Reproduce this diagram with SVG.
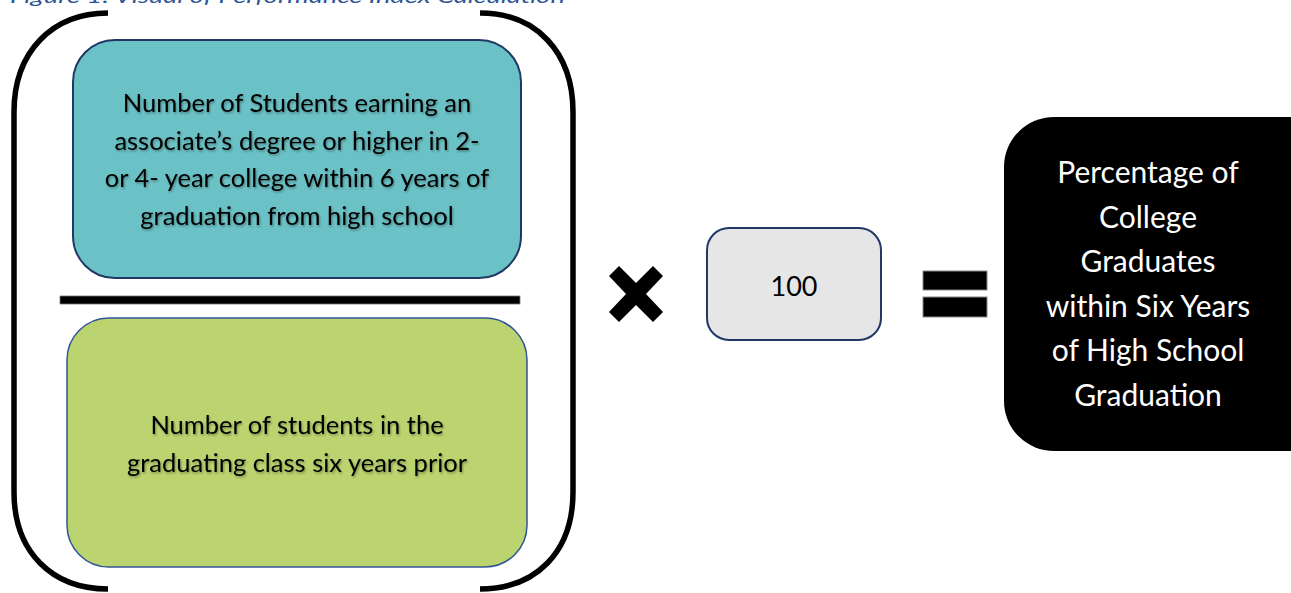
<svg xmlns="http://www.w3.org/2000/svg" width="1291" height="593" viewBox="0 0 1291 593">
  <defs>
    <filter id="shadow" x="-10%" y="-20%" width="120%" height="140%">
      <feDropShadow dx="1" dy="1.5" stdDeviation="1" flood-color="#000" flood-opacity="0.35"/>
    </filter>
  </defs>
  <style>
    .title { font-family: "Lato", "Noto Sans", sans-serif; font-style: italic; font-size: 20px; fill: #2F5597; }
    .bracket { fill: none; stroke: #000; stroke-width: 5.5; }
    .lbl { font-family: "Lato", "Noto Sans", sans-serif; font-size: 25.5px; fill: #000; text-anchor: middle; }
    .res { font-family: "Lato", "Noto Sans", sans-serif; font-size: 30px; fill: #fff; text-anchor: middle; }
    .box { stroke: #1F3864; stroke-width: 2; }
    .op { fill: #000; stroke: #888; stroke-width: 1; }
  </style>
  <rect x="0" y="0" width="1291" height="593" fill="#fff"/>

  <text class="title" x="10" y="3" textLength="555" lengthAdjust="spacingAndGlyphs">Figure 1: Visual of Performance Index Calculation</text>

  <g id="brackets">
    <path class="bracket" d="M108,13 C52,13 14,52 14,112 L14,492 C14,552 52,589 108,589"/>
    <path class="bracket" d="M480,13 C536,13 573,52 573,112 L573,492 C573,552 536,589 480,589"/>
  </g>

  <g id="numerator">
    <rect class="box" x="73" y="40" width="448" height="238" rx="42" ry="42" fill="#6BC2C6"/>
    <g filter="url(#shadow)">
      <text class="lbl" x="297" y="112">Number of Students earning an</text>
      <text class="lbl" x="297" y="150">associate’s degree or higher in 2-</text>
      <text class="lbl" x="297" y="187">or 4- year college within 6 years of</text>
      <text class="lbl" x="297" y="225">graduation from high school</text>
    </g>
  </g>

  <g id="divider">
    <rect x="60" y="296" width="460" height="8" fill="#000" stroke="#777" stroke-width="0.8"/>
  </g>

  <g id="denominator">
    <rect x="67" y="318" width="460" height="249" rx="42" ry="42" fill="#BCD46F" stroke="#2F5597" stroke-width="1.5"/>
    <g filter="url(#shadow)">
      <text class="lbl" x="297" y="434">Number of students in the</text>
      <text class="lbl" x="297" y="472">graduating class six years prior</text>
    </g>
  </g>

  <g id="times">
    <polygon fill="#000" points="609,276 619,266 636,283 653,266 663,276 646,294 663,312 653,322 636,305 619,322 609,312 626,294"/>
  </g>

  <g id="hundred">
    <rect class="box" x="707" y="228" width="174" height="112" rx="22" ry="22" fill="#E6E6E6"/>
    <text x="794" y="296" font-family="Lato, 'Noto Sans', sans-serif" font-size="27" text-anchor="middle" fill="#000">100</text>
  </g>

  <g id="equals">
    <rect class="op" x="923" y="271" width="64" height="19"/>
    <rect class="op" x="923" y="297" width="64" height="20"/>
  </g>

  <g id="result">
    <rect x="1004" y="117" width="340" height="334" rx="50" ry="50" fill="#000"/>
    <text class="res" x="1148" y="183">Percentage of</text>
    <text class="res" x="1148" y="228">College</text>
    <text class="res" x="1148" y="272">Graduates</text>
    <text class="res" x="1148" y="317">within Six Years</text>
    <text class="res" x="1148" y="361">of High School</text>
    <text class="res" x="1148" y="406">Graduation</text>
  </g>
</svg>
